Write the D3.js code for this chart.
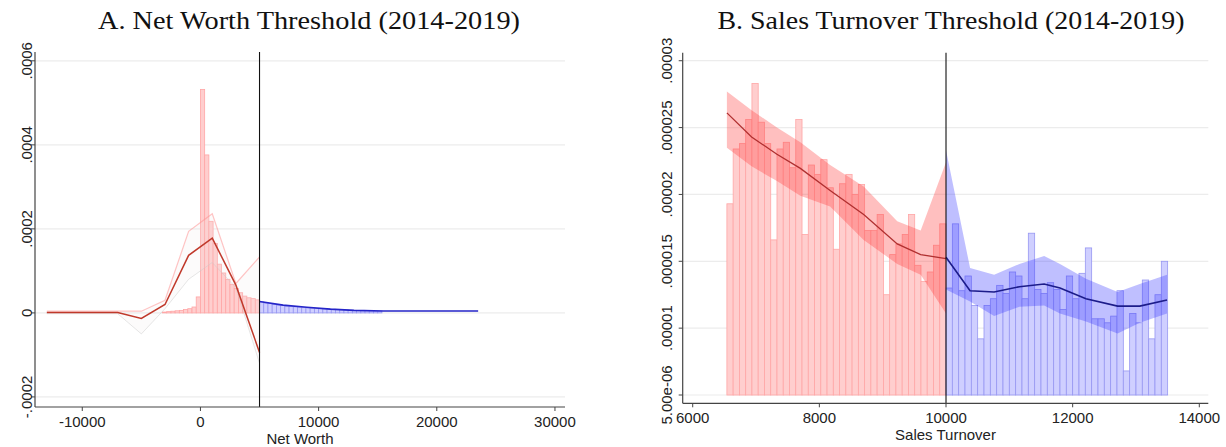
<!DOCTYPE html>
<html lang="en">
<head>
<meta charset="UTF-8">
<title>RD density plots</title>
<script src="https://d3js.org/d3.v7.min.js"></script>
<style>
  body { margin: 0; background: #fff; }
  text { font-family: "Liberation Sans", Arial, sans-serif; fill: #222; }
  .title { font-family: "Liberation Serif", "DejaVu Serif", serif; fill: #111; }
</style>
</head>
<body>
<script>
// ---------- Panel A: net worth (cutoff 5000) ----------
const nwCut = 5000
const nwBinW = 5000 / 14
// histogram heights left of cutoff, bins ending at the cutoff
const nwRedBars = [0.000002, 0.000003, 0.000004, 0.000005, 0.000006, 0.000008, 0.00001, 0.000014, 0.000038,
  0.000532, 0.000376, 0.000218, 0.000165, 0.000116, 0.000095, 0.00008, 0.000068, 0.000058, 0.000048,
  0.00004, 0.000036, 0.000034, 0.000031]
// histogram heights right of cutoff, bins starting at the cutoff
const nwBlueBars = [0.000026, 0.0000235, 0.000022, 0.00002, 0.0000185, 0.0000175, 0.000016, 0.000015, 0.0000145,
  0.0000135, 0.0000125, 0.000012, 0.000011, 0.0000105, 0.00001, 0.0000095, 0.000009, 0.0000085, 0.000008,
  0.0000075, 0.000007, 0.0000065, 0.000006, 0.0000055, 0.000005, 0.000005, 0.0000045, 0.000004, 0.000004]
const nwFitX = [-13000, -7000, -5000, -3000, -1000, 1000, 3000, 5000]
const nwFit = [0.000001, 0.000001, -0.000013, 0.00002, 0.000137, 0.000178, 0.000066, -0.000094]
const nwHi = [0.000004, 0.000004, 0.000004, 0.00003, 0.000194, 0.000236, 0.00007, 0.000133]
const nwLo = [-0.000002, -0.000002, -0.00005, 0.00001, 0.00008, 0.00012, 0.00006, -0.00012]
const nwBlueX = [5000, 7000, 9000, 11000, 13000, 15500, 17500, 19500, 21500, 23500]
const nwBlueFit = [0.000027, 0.0000185, 0.0000135, 0.000009, 0.000006, 0.0000045, 0.0000045, 0.0000045, 0.0000045, 0.0000045]
const nwXTicks = [-10000, 0, 10000, 20000, 30000]
const nwYTicks = [-0.0002, 0, 0.0002, 0.0004, 0.0006]
const nwYLabels = ["-.0002", "0", ".0002", ".0004", ".0006"]

// ---------- Panel B: sales turnover (cutoff 10000) ----------
const stCut = 10000
const stRedStart = 6540
const stBlueW = 100
const stRedBars = [19.3, 23.4, 23.8, 25.6, 28.3, 25.4, 23.8, 16.6, 23.4, 23.9, 22.0, 25.6, 17.0, 22.2, 21.5,
  22.6, 20.5, 15.9, 20.8, 21.5, 20.0, 20.75, 17.3, 17.3, 18.5, 12.5, 15.5, 16.3, 17.0, 18.5, 14.7, 13.5,
  14.2, 16.2, 17.8].map(v => v * 1e-6)
const stBlueBars = [13.0, 17.8, 12.8, 13.9, 11.7, 9.2, 11.7, 12.2, 13.2, 12.6, 14.2, 13.9, 12.2, 17.1, 12.9,
  12.6, 13.4, 12.9, 11.4, 13.9, 12.2, 14.1, 16.0, 10.7, 10.7, 10.4, 10.9, 12.8, 6.8, 11.1, 10.4, 13.6,
  9.2, 12.5, 15.0].map(v => v * 1e-6)
const stRedX = [6540, 6930, 7330, 7700, 8170, 8700, 9230, 9600, 10000]
const stRedFit = [26.1, 24.3, 23.0, 21.95, 20.3, 18.5, 16.3, 15.5, 15.2].map(v => v * 1e-6)
const stRedHi = [27.7, 26.3, 25.0, 23.9, 22.2, 20.6, 18.0, 17.3, 22.4].map(v => v * 1e-6)
const stRedLo = [23.5, 22.1, 21.0, 19.9, 19.1, 16.6, 14.8, 14.0, 11.1].map(v => v * 1e-6)
const stBlueX = [10000, 10380, 10760, 11160, 11550, 11800, 12210, 12710, 13060, 13490]
const stBlueFit = [15.3, 12.8, 12.7, 13.1, 13.3, 13.0, 12.2, 11.65, 11.65, 12.1].map(v => v * 1e-6)
const stBlueHi = [23.3, 14.5, 14.0, 14.8, 15.4, 14.8, 13.7, 12.7, 13.3, 14.0].map(v => v * 1e-6)
const stBlueLo = [12.9, 12.0, 10.9, 11.6, 11.7, 11.1, 10.5, 9.6, 10.4, 11.1].map(v => v * 1e-6)
const stXTicks = [6000, 8000, 10000, 12000, 14000]
const stYTicks = [0.000005, 0.00001, 0.000015, 0.00002, 0.000025, 0.00003]
const stYLabels = ["5.00e-06", ".00001", ".000015", ".00002", ".000025", ".00003"]

const width = 1226
const height = 447
const svg = d3.select("body").append("svg")
  .attr("width", width).attr("height", height)

const redBar = {fill: "#ffcece", stroke: "#ffa6a6"}
const blueBar = {fill: "#cfcfff", stroke: "#9797f2"}

function panel(o) {
  const g = svg.append("g")
  const x = d3.scaleLinear().domain(o.xDomain).range([o.left, o.right])
  const y = d3.scaleLinear().domain(o.yDomain).range([o.bottom, o.top])

  // grid
  g.selectAll(".grid").data(o.yTicks).enter().append("line")
    .attr("x1", o.left).attr("x2", o.right)
    .attr("y1", d => y(d)).attr("y2", d => y(d))
    .attr("stroke", "#ececec").attr("stroke-width", 1.2)

  // histogram bars
  o.bars.forEach(b => {
    g.append("g").selectAll("rect").data(b.values).enter().append("rect")
      .attr("x", (d, i) => x(b.start + i * b.w))
      .attr("width", x(b.start + b.w) - x(b.start))
      .attr("y", d => y(Math.max(d, o.base)))
      .attr("height", d => Math.abs(y(o.base) - y(d)))
      .attr("fill", b.style.fill).attr("stroke", b.style.stroke).attr("stroke-width", 0.8)
  })

  // confidence bands
  o.bands.forEach(b => {
    const area = d3.area().x((d, i) => x(b.x[i])).y0((d, i) => y(b.lo[i])).y1((d, i) => y(b.hi[i]))
    g.append("path").datum(b.x).attr("d", area)
      .attr("fill", b.fill).attr("fill-opacity", b.opacity)
    if (b.edge) {
      const up = d3.line().x((d, i) => x(b.x[i])).y((d, i) => y(b.hi[i]))
      g.append("path").datum(b.x).attr("d", up).attr("fill", "none")
        .attr("stroke", b.edge).attr("stroke-width", 1.2)
      const low = d3.line().x((d, i) => x(b.x[i])).y((d, i) => y(b.lo[i]))
      g.append("path").datum(b.x).attr("d", low).attr("fill", "none")
        .attr("stroke", "rgba(200,200,200,0.45)").attr("stroke-width", 1)
    }
  })

  // fitted lines
  o.lines.forEach(l => {
    const line = d3.line().x((d, i) => x(l.x[i])).y(d => y(d))
    g.append("path").datum(l.y).attr("d", line).attr("fill", "none")
      .attr("stroke", l.color).attr("stroke-width", l.w || 1.4)
  })

  // cutoff line
  g.append("line").attr("x1", x(o.cut)).attr("x2", x(o.cut))
    .attr("y1", o.top).attr("y2", o.bottom).attr("stroke", "#111").attr("stroke-width", 1.1)

  // axes
  g.append("line").attr("x1", o.left).attr("x2", o.left).attr("y1", o.top).attr("y2", o.bottom)
    .attr("stroke", "#444").attr("stroke-width", 1.2)
  g.append("line").attr("x1", o.left).attr("x2", o.right).attr("y1", o.bottom).attr("y2", o.bottom)
    .attr("stroke", "#444").attr("stroke-width", 1.2)

  g.selectAll(".yt").data(o.yTicks).enter().append("line")
    .attr("x1", o.left - 4).attr("x2", o.left)
    .attr("y1", d => y(d)).attr("y2", d => y(d)).attr("stroke", "#444")
  g.selectAll(".yl").data(o.yTicks).enter().append("text")
    .attr("transform", d => `translate(${o.left - o.yLabOff},${y(d)}) rotate(-90)`)
    .attr("text-anchor", "middle").attr("font-size", 15)
    .text((d, i) => o.yLabels[i])

  g.selectAll(".xt").data(o.xTicks).enter().append("line")
    .attr("x1", d => x(d)).attr("x2", d => x(d))
    .attr("y1", o.bottom).attr("y2", o.bottom + 4).attr("stroke", "#444")
  g.selectAll(".xl").data(o.xTicks).enter().append("text")
    .attr("x", d => x(d)).attr("y", o.bottom + 20)
    .attr("text-anchor", "middle").attr("font-size", 15)
    .text(d => d)

  g.append("text").attr("x", (o.left + o.right) / 2).attr("y", o.bottom + 37)
    .attr("text-anchor", "middle").attr("font-size", 15).text(o.xTitle)

  g.append("text").attr("class", "title")
    .attr("x", o.titleX).attr("y", 29)
    .attr("text-anchor", "middle").attr("font-size", 25)
    .attr("textLength", o.titleW).attr("lengthAdjust", "spacingAndGlyphs")
    .text(o.title)
}

panel({
  left: 35, right: 565, top: 52, bottom: 407,
  xDomain: [-14000, 30850], yDomain: [-0.000224, 0.000621],
  base: 0, cut: nwCut,
  yTicks: nwYTicks, yLabels: nwYLabels, xTicks: nwXTicks, yLabOff: 3,
  bars: [
    {start: nwCut - nwRedBars.length * nwBinW, w: nwBinW, values: nwRedBars, style: redBar},
    {start: nwCut, w: nwBinW, values: nwBlueBars, style: blueBar}
  ],
  bands: [
    {x: nwFitX, hi: nwHi, lo: nwLo, fill: "#eee6e6", opacity: 0.15, edge: "rgba(255,140,140,0.5)"}
  ],
  lines: [
    {x: nwFitX, y: nwFit, color: "#c0392b", w: 1.5},
    {x: nwBlueX, y: nwBlueFit, color: "#2525c8", w: 1.6}
  ],
  xTitle: "Net Worth",
  title: "A.  Net Worth Threshold (2014-2019)", titleX: 309, titleW: 422
})

panel({
  left: 682.7, right: 1208.3, top: 52.7, bottom: 403.3,
  xDomain: [5842, 14142], yDomain: [0.00000438, 0.0000306],
  base: 0.000005, cut: stCut,
  yTicks: stYTicks, yLabels: stYLabels, xTicks: stXTicks, yLabOff: 11,
  bars: [
    {start: stRedStart, w: (stCut - stRedStart) / stRedBars.length, values: stRedBars, style: redBar},
    {start: stCut, w: stBlueW, values: stBlueBars, style: blueBar}
  ],
  bands: [
    {x: stRedX, hi: stRedHi, lo: stRedLo, fill: "#ff2a2a", opacity: 0.3},
    {x: stBlueX, hi: stBlueHi, lo: stBlueLo, fill: "#2a2aff", opacity: 0.3}
  ],
  lines: [
    {x: stRedX, y: stRedFit, color: "#b03030", w: 1.3},
    {x: stBlueX, y: stBlueFit, color: "#1c1c8a", w: 1.6}
  ],
  xTitle: "Sales Turnover",
  title: "B.  Sales Turnover Threshold (2014-2019)", titleX: 951, titleW: 467
})
</script>
</body>
</html>
